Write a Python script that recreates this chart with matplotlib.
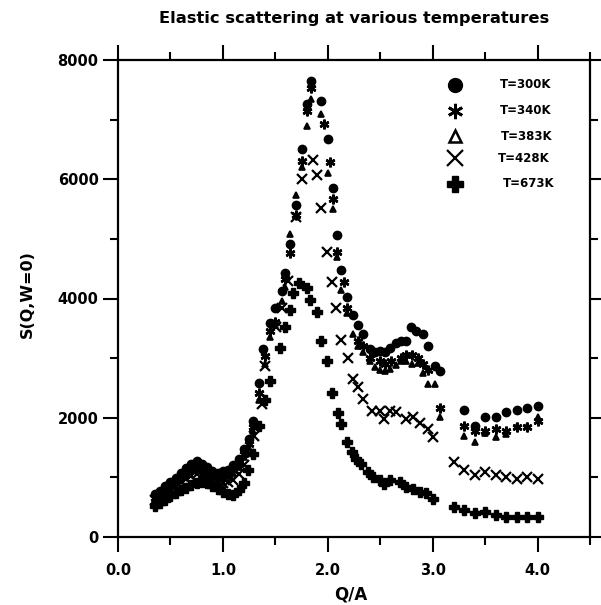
import matplotlib
matplotlib.use("Agg")
import matplotlib.pyplot as plt
from matplotlib.lines import Line2D
from matplotlib.ticker import MultipleLocator, FixedLocator

plt.rcParams['font.family'] = ['DejaVu Sans']
plt.rcParams['font.weight'] = 'bold'

# ---- data ----
q300 = [0.35, 0.40, 0.45, 0.50, 0.55, 0.60, 0.65, 0.70, 0.75, 0.80, 0.85, 0.90, 0.95, 1.00,
        1.05, 1.10, 1.15, 1.20, 1.25, 1.29, 1.34, 1.38, 1.45, 1.50, 1.56, 1.59, 1.64, 1.70,
        1.75, 1.80, 1.84, 1.94, 2.00, 2.05, 2.09, 2.13, 2.18, 2.24, 2.29, 2.34, 2.40, 2.45,
        2.50, 2.55, 2.59, 2.65, 2.70, 2.75, 2.79, 2.84, 2.91, 2.96, 3.02, 3.07,
        3.30, 3.40, 3.50, 3.60, 3.70, 3.80, 3.90, 4.00]
s300 = [720, 770, 850, 920, 990, 1070, 1150, 1230, 1280, 1230, 1170, 1110, 1080, 1100,
        1130, 1200, 1300, 1480, 1650, 1950, 2590, 3150, 3590, 3840, 4120, 4420, 4920, 5560,
        6500, 7260, 7650, 7310, 6670, 5850, 5060, 4480, 4030, 3730, 3560, 3400, 3150, 3100,
        3120, 3100, 3170, 3260, 3280, 3290, 3520, 3460, 3400, 3200, 2870, 2780,
        2130, 1870, 2005, 2005, 2090, 2130, 2160, 2200]

q340 = [0.35, 0.40, 0.45, 0.50, 0.55, 0.60, 0.65, 0.70, 0.75, 0.80, 0.85, 0.90, 0.95, 1.00,
        1.05, 1.10, 1.15, 1.20, 1.25, 1.29, 1.34, 1.40, 1.45, 1.50, 1.59, 1.64, 1.70, 1.75,
        1.80, 1.84, 1.96, 2.02, 2.05, 2.09, 2.15, 2.18, 2.29, 2.34, 2.40, 2.50, 2.55, 2.60,
        2.70, 2.75, 2.80, 2.86, 2.91, 2.96, 3.07,
        3.30, 3.40, 3.50, 3.60, 3.70, 3.80, 3.90, 4.00]
s340 = [650, 720, 800, 870, 940, 1010, 1090, 1150, 1180, 1150, 1100, 1050, 1020, 1040,
        1070, 1120, 1230, 1400, 1560, 1850, 2420, 3030, 3450, 3600, 4320, 4760, 5400, 6300,
        7145, 7535, 6935, 6285, 5670, 4780, 4280, 3840, 3280, 3200, 3000, 2950, 2900, 2950,
        3000, 3050, 3050, 3000, 2900, 2800, 2170,
        1870, 1780, 1780, 1810, 1780, 1840, 1840, 1950]

q383 = [0.35, 0.40, 0.45, 0.50, 0.55, 0.60, 0.65, 0.70, 0.75, 0.80, 0.85, 0.90, 0.95, 1.00,
        1.05, 1.10, 1.15, 1.20, 1.25, 1.29, 1.34, 1.40, 1.45, 1.50, 1.56, 1.59, 1.64, 1.70,
        1.75, 1.80, 1.84, 1.94, 2.00, 2.05, 2.09, 2.13, 2.18, 2.24, 2.29, 2.34, 2.40, 2.45,
        2.50, 2.55, 2.59, 2.65, 2.70, 2.75, 2.80, 2.86, 2.91, 2.96, 3.02, 3.07,
        3.30, 3.40, 3.50, 3.60, 3.70, 3.80, 3.90, 4.00]
s383 = [600, 680, 760, 830, 900, 970, 1040, 1100, 1130, 1100, 1060, 1010, 980, 990,
        1020, 1080, 1180, 1340, 1500, 1780, 2300, 2900, 3350, 3550, 3950, 4200, 5090, 5730,
        6200, 6900, 7350, 7100, 6100, 5506, 4700, 4150, 3750, 3400, 3200, 3100, 2950, 2850,
        2800, 2780, 2820, 2880, 2950, 2950, 2900, 2920, 2750, 2560, 2560, 2005,
        1700, 1590, 1750, 1670, 1730, 1870, 1870, 2005]

q428 = [0.35, 0.40, 0.45, 0.50, 0.55, 0.60, 0.65, 0.70, 0.75, 0.80, 0.85, 0.90, 0.95, 1.00,
        1.05, 1.10, 1.15, 1.20, 1.25, 1.30, 1.37, 1.40, 1.51, 1.56, 1.62, 1.70, 1.75, 1.86,
        1.90, 1.94, 1.99, 2.04, 2.08, 2.13, 2.19, 2.24, 2.29, 2.34, 2.42, 2.50, 2.54, 2.59,
        2.65, 2.75, 2.81, 2.88, 2.96, 3.00,
        3.20, 3.30, 3.40, 3.50, 3.60, 3.70, 3.80, 3.90, 4.00]
s428 = [620, 680, 740, 800, 860, 920, 980, 1030, 1060, 1040, 1000, 960, 920, 900,
        920, 960, 1050, 1200, 1400, 1700, 2230, 2870, 3530, 3840, 4300, 5370, 6010, 6320,
        6070, 5520, 4780, 4280, 3840, 3310, 3010, 2650, 2510, 2310, 2120, 2120, 1980, 2120,
        2100, 1980, 2005, 1920, 1810, 1670,
        1256, 1117, 1033, 1089, 1033, 1005, 978, 1005, 978]

q673 = [0.35, 0.40, 0.45, 0.50, 0.55, 0.60, 0.65, 0.70, 0.75, 0.80, 0.85, 0.90, 0.95, 1.00,
        1.05, 1.10, 1.15, 1.20, 1.24, 1.29, 1.34, 1.40, 1.45, 1.54, 1.59, 1.64, 1.67, 1.73,
        1.80, 1.83, 1.90, 1.94, 1.99, 2.04, 2.10, 2.13, 2.18, 2.23, 2.27, 2.32, 2.38, 2.43,
        2.50, 2.54, 2.59, 2.69, 2.75, 2.81, 2.88, 2.94, 3.00,
        3.20, 3.30, 3.40, 3.50, 3.60, 3.70, 3.80, 3.90, 4.00]
s673 = [520, 570, 620, 680, 740, 780, 830, 880, 900, 920, 900, 860, 810, 760,
        720, 700, 780, 900, 1120, 1400, 1870, 2300, 2620, 3170, 3520, 3810, 4090, 4260,
        4170, 3980, 3780, 3280, 2950, 2420, 2080, 1895, 1590, 1420, 1310, 1230, 1090, 1005,
        950, 895, 950, 920, 840, 810, 755, 730, 645,
        505, 450, 395, 420, 367, 340, 340, 340, 340]

labels = ["T=300K", "T=340K", "T=383K", "T=428K", "T=673K"]
xtick_labels = ["0.0", "1.0", "2.0", "3.0", "4.0"]

# ---- figure ----
W, H = 601, 605
fig = plt.figure(figsize=(W / 100, H / 100), dpi=100)
ax = fig.add_axes([118 / W, 1 - 537 / H, (590 - 118) / W, (537 - 60) / H])

ax.plot(q300, s300, linestyle='none', marker='o', ms=6, mfc='black', mec='black')
ax.plot(q340, s340, linestyle='none', marker=(6, 2, 0), ms=7, mec='black', mew=1.8)
ax.plot(q383, s383, linestyle='none', marker='^', ms=4.5, mfc='black', mec='black', mew=1.2)
ax.plot(q428, s428, linestyle='none', marker='x', ms=6.5, mec='black', mew=1.6)
ax.plot(q673, s673, linestyle='none', marker='P', ms=6.5, mfc='black', mec='black')

ax.set_xlim(0, 4.5)
ax.set_ylim(0, 8000)
ax.xaxis.set_major_locator(FixedLocator([0, 1, 2, 3, 4]))
ax.xaxis.set_minor_locator(FixedLocator([0.5, 1.5, 2.5, 3.5, 4.5]))
ax.yaxis.set_major_locator(MultipleLocator(2000))
ax.yaxis.set_minor_locator(MultipleLocator(1000))
ax.set_xticklabels(xtick_labels)
ax.tick_params(which='both', direction='out', top=True, right=True, width=1.5,
               labelsize=10.5)
ax.tick_params(which='major', length=11)
ax.tick_params(which='minor', length=6)
ax.tick_params(axis='x', which='major', pad=8)
ax.tick_params(axis='y', which='major', pad=3)
for lab in ax.get_xticklabels() + ax.get_yticklabels():
    lab.set_fontweight('bold')
for sp in ax.spines.values():
    sp.set_linewidth(1.6)

fig.text(354 / W, 1 - 19 / H, "Elastic scattering at various temperatures",
         fontsize=11.7, fontweight='bold', ha='center', va='center')
fig.text(351 / W, 1 - 594 / H, "Q/A", fontsize=12, fontweight='bold',
         ha='center', va='center')
fig.text(27 / W, 1 - 294 / H, "S(Q,W=0)", fontsize=11.5, fontweight='bold',
         ha='center', va='center', rotation=90)

# legend drawn at fixed figure positions (no frame)
leg_markers = [
    dict(marker='o', ms=10, mfc='black', mec='black'),
    dict(marker=(6, 2, 0), ms=11, mec='black', mew=2),
    dict(marker='^', ms=9, mfc='white', mec='black', mew=1.8),
    dict(marker='x', ms=11, mec='black', mew=1.6),
    dict(marker='P', ms=12, mfc='black', mec='black'),
]
leg_rows = [85, 111, 136, 158, 184]
leg_text_x = [500, 500, 501, 498, 503]
for mk, yy, tx, lab in zip(leg_markers, leg_rows, leg_text_x, labels):
    fig.add_artist(Line2D([455 / W], [1 - yy / H], linestyle='none',
                          transform=fig.transFigure, **mk))
    fig.text(tx / W, 1 - yy / H, lab, fontsize=8.5, fontweight='bold',
             ha='left', va='center')

fig.savefig("out.png", dpi=100)
